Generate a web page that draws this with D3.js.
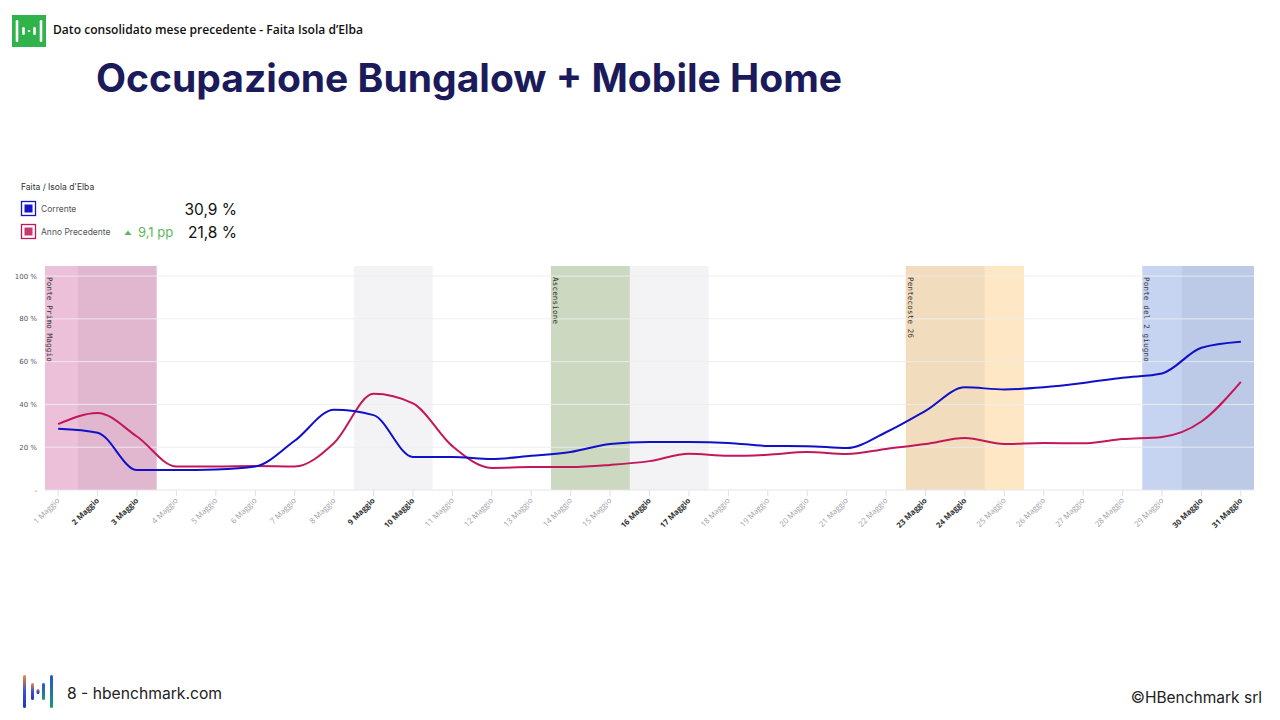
<!DOCTYPE html>
<html><head><meta charset="utf-8">
<script src="https://cdn.jsdelivr.net/npm/d3@7/dist/d3.min.js"></script>
<style>
html,body{margin:0;padding:0;background:#fff;}
svg{display:block;}
</style></head>
<body>
<svg id="c" width="1280" height="720"></svg>
<script>
// ---- data ----
const days = d3.range(1, 32);
const dayLabels = days.map(d => d + " Maggio");
const boldDays = [2, 3, 9, 10, 16, 17, 23, 24, 30, 31];
const corrente = [28.6, 26.8, 9.3, 9.3, 9.6, 11, 23, 37.5, 35, 15.4, 15.4, 14.5, 16, 17.8, 21.5, 22.4, 22.4, 22, 20.6, 20.5, 19.6, 27, 37, 48, 47, 48, 50, 52.5, 54.5, 66.5, 69.3];
const annoPrecedente = [30.8, 36, 25, 11, 11, 11.2, 11, 22, 45, 40.5, 20.5, 10.3, 10.7, 10.7, 11.7, 13.5, 17, 16, 16.5, 17.8, 16.8, 19.2, 21.5, 24.3, 21.5, 22, 21.8, 23.8, 24.8, 32, 50.5];
const yTicks = [0, 20, 40, 60, 80, 100];
const holidays = [
  {from: 0.5, to: 3.5, label: "Ponte Primo Maggio", color: "#ecc0d8"},
  {from: 13.5, to: 15.5, label: "Ascensione", color: "#cdd8c0"},
  {from: 22.5, to: 25.5, label: "Pentecoste 26", color: "#fde7c4"},
  {from: 28.5, to: 31.5, label: "Ponte del 2 giugno", color: "#c6d4f1"}
];
const weekends = [[1.5, 3.5], [8.5, 10.5], [15.5, 17.5], [22.5, 24.5], [29.5, 31.5]];
const legendTitle = "Faita / Isola d'Elba";
const seriesNames = ["Corrente", "Anno Precedente"];
const seriesTotals = ["30,9 %", "21,8 %"];
const deltaText = "9,1 pp";

// ---- drawing ----
const svg = d3.select("#c");
const x = d3.scaleLinear().domain([0.667, 31.333]).range([45, 1254]);
const y = d3.scaleLinear().domain([0, 104.7]).range([490, 266]);
const [x0, x1] = x.range();

// header logo
const hg = svg.append("g");
hg.append("rect").attr("x", 12).attr("y", 15).attr("width", 34).attr("height", 32).attr("fill", "#2fb34a");
[[17, 20, 22], [41, 20, 22], [23.5, 27, 8], [34.5, 27, 8], [29, 30, 2]].forEach(([bx, by, bh]) => {
  hg.append("rect").attr("x", bx - 1.3).attr("y", by).attr("width", 2.6).attr("height", bh).attr("rx", 1.2).attr("fill", "#fff");
});
svg.append("text").attr("x", 53).attr("y", 34).attr("font-family", "Open Sans").attr("font-weight", 600)
  .attr("font-size", 12).attr("fill", "#111").attr("textLength", 310).attr("lengthAdjust", "spacingAndGlyphs")
  .text("Dato consolidato mese precedente - Faita Isola d’Elba");

// title
svg.append("text").attr("x", 96).attr("y", 92).attr("font-family", "Inter").attr("font-weight", 700)
  .attr("font-size", 39).attr("fill", "#1b1b5c").attr("textLength", 746).attr("lengthAdjust", "spacingAndGlyphs")
  .text("Occupazione Bungalow + Mobile Home");

// legend
const lg = svg.append("g").attr("font-family", "Inter");
lg.append("text").attr("x", 21).attr("y", 190).attr("font-size", 8.5).attr("fill", "#333").text(legendTitle);
const legColors = ["#1414c8", "#c2185b"];
const legFill = ["#1414c8", "#c8386f"];
[0, 1].forEach(i => {
  const ty = 201 + i * 23;
  lg.append("rect").attr("x", 21.5).attr("y", ty + 0.5).attr("width", 14).attr("height", 14).attr("fill", "#fff").attr("stroke", legColors[i]).attr("stroke-width", 1.3);
  lg.append("rect").attr("x", 24.5).attr("y", ty + 3.5).attr("width", 8).attr("height", 8).attr("fill", legFill[i]);
  lg.append("text").attr("x", 41).attr("y", ty + 11).attr("font-size", 8.5).attr("fill", "#555").text(seriesNames[i]);
  lg.append("text").attr("x", 237).attr("y", ty + 14).attr("text-anchor", "end").attr("font-size", 15.5).attr("fill", "#111").text(seriesTotals[i]);
});
lg.append("path").attr("d", "M124.5,235 L128,230.5 L131.5,235 Z").attr("fill", "#5cb85c");
lg.append("text").attr("x", 138).attr("y", 237).attr("font-size", 13).attr("fill", "#5cb85c").text(deltaText);

// bands
const bg = svg.append("g");
holidays.forEach(h => {
  const a = Math.max(x(h.from), x0), b = Math.min(x(h.to), x1);
  bg.append("rect").attr("x", a).attr("y", 266).attr("width", b - a).attr("height", 224).attr("fill", h.color);
});
weekends.forEach(([f, t]) => {
  const a = Math.max(x(f), x0), b = Math.min(x(t), x1);
  bg.append("rect").attr("x", a).attr("y", 266).attr("width", b - a).attr("height", 224).attr("fill", "#202050").attr("fill-opacity", 0.055);
});

// grid
const gg = svg.append("g");
yTicks.forEach(t => {
  gg.append("line").attr("x1", x0).attr("x2", x1).attr("y1", y(t)).attr("y2", y(t))
    .attr("stroke", t === 0 ? "#e4e4ec" : "#ececf0").attr("stroke-opacity", 0.9).attr("stroke-width", 1);
});
svg.append("g").attr("font-family", "DejaVu Sans").attr("font-size", 7).attr("fill", "#556")
  .selectAll("text").data(yTicks).join("text")
  .attr("x", 37).attr("y", d => y(d) + 2.5).attr("text-anchor", "end")
  .text(d => d === 0 ? "-" : d + " %");

// band labels
holidays.forEach(h => {
  const a = Math.max(x(h.from), x0);
  svg.append("text").attr("transform", `translate(${a + 1.8},277) rotate(90)`)
    .attr("font-family", "DejaVu Sans Mono").attr("font-size", 7.5).attr("fill", "#333").attr("letter-spacing", 0.2)
    .text(h.label);
});

// x axis ticks & labels
const ag = svg.append("g");
days.forEach((d, i) => {
  ag.append("line").attr("x1", x(d)).attr("x2", x(d)).attr("y1", 490).attr("y2", 496).attr("stroke", "#e0e0e8");
  const bold = boldDays.includes(d);
  ag.append("text").attr("transform", `translate(${x(d) + 2},${501}) rotate(-45)`)
    .attr("text-anchor", "end").attr("font-family", "Open Sans").attr("font-size", 7.8)
    .attr("font-weight", bold ? 700 : 400).attr("fill", bold ? "#333" : "#a0a0a8")
    .text(dayLabels[i]);
});

// lines
const line = d3.line().x((v, i) => x(days[i])).y(v => y(v)).curve(d3.curveMonotoneX);
svg.append("path").datum(annoPrecedente).attr("d", line).attr("fill", "none").attr("stroke", "#c2185b").attr("stroke-width", 2);
svg.append("path").datum(corrente).attr("d", line).attr("fill", "none").attr("stroke", "#1010c8").attr("stroke-width", 2);

// footer
const defs = svg.append("defs");
const g1 = defs.append("linearGradient").attr("id", "gA").attr("x1", 0).attr("y1", 0).attr("x2", 0).attr("y2", 1);
g1.append("stop").attr("offset", 0).attr("stop-color", "#f08a24");
g1.append("stop").attr("offset", 0.5).attr("stop-color", "#3b4fd8");
g1.append("stop").attr("offset", 1).attr("stop-color", "#2233c0");
const g2 = defs.append("linearGradient").attr("id", "gB").attr("x1", 0).attr("y1", 0).attr("x2", 0).attr("y2", 1);
g2.append("stop").attr("offset", 0).attr("stop-color", "#2a4fd8");
g2.append("stop").attr("offset", 1).attr("stop-color", "#1a9a6a");
[[24.5, 675, 33, "gA"], [32.5, 683, 17, "gA"], [38, 689, 5, "gA"], [43.5, 683, 17, "gB"], [51.5, 675, 33, "gB"]].forEach(([bx, by, bh, gid]) => {
  svg.append("rect").attr("x", bx - 1.5).attr("y", by).attr("width", 3).attr("height", bh).attr("rx", 1.5).attr("fill", `url(#${gid})`);
});
svg.append("text").attr("x", 67).attr("y", 699).attr("font-family", "Inter").attr("font-size", 15.5).attr("fill", "#222")
  .attr("textLength", 155).attr("lengthAdjust", "spacingAndGlyphs").text("8 - hbenchmark.com");
svg.append("text").attr("x", 1262).attr("y", 703).attr("text-anchor", "end").attr("font-family", "Inter").attr("font-size", 15.5).attr("fill", "#222")
  .text("©HBenchmark srl");
</script>
</body></html>
